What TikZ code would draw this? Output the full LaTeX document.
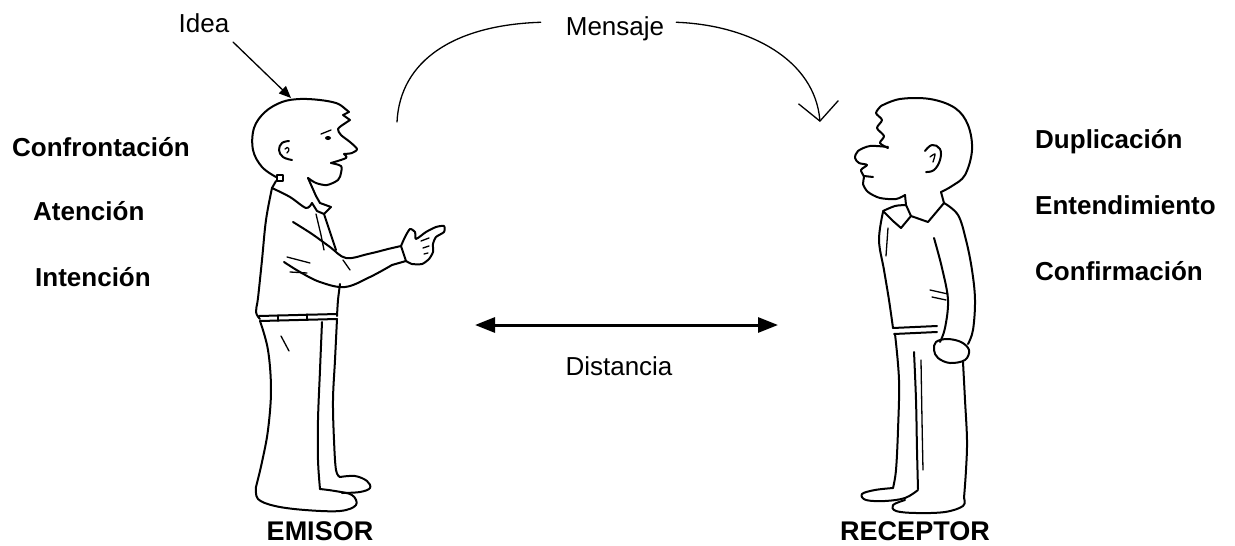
\documentclass[tikz,border=0pt]{standalone}
\usepackage{fontspec}
\setmainfont{Liberation Sans}
\usetikzlibrary{arrows.meta}
\begin{document}
\begin{tikzpicture}[x=1pt,y=-1pt,
  ink/.style={line width=2pt, line cap=round, line join=round},
  fine/.style={line width=1.3pt, line cap=round, line join=round},
  boldlabel/.style={font=\fontsize{26}{30}\selectfont\bfseries, inner sep=0pt, anchor=base west},
  plainlabel/.style={font=\fontsize{26}{30}\selectfont, inner sep=0pt, anchor=base},
  rolelabel/.style={font=\fontsize{27}{30}\selectfont\bfseries, inner sep=0pt, anchor=base}
]
\useasboundingbox[fill=white] (0,0) rectangle (1235,546);

% ---------- left-hand qualities ----------
\node[boldlabel] (confront) at (12,156) {Confrontación};
\node[boldlabel] (atencion) at (33,220) {Atención};
\node[boldlabel] (intencion) at (35,286) {Intención};

% ---------- right-hand qualities ----------
\node[boldlabel] (duplic) at (1035,148) {Duplicación};
\node[boldlabel] (entend) at (1035,214) {Entendimiento};
\node[boldlabel] (confirm) at (1035,280) {Confirmación};

% ---------- roles ----------
\node[rolelabel] (emisor) at (320,540) {EMISOR};
\node[rolelabel] (receptor) at (915,540) {RECEPTOR};

% ---------- idea arrow ----------
\node[plainlabel] (idea) at (204,32) {Idea};
\coordinate (ideatail) at (233,42);
\coordinate (headtop) at (291,98);
\draw[fine,-{Triangle[length=12pt,width=10pt]}] (ideatail) -- (headtop);

% ---------- message arc ----------
\node[plainlabel] (mensaje) at (615,35) {Mensaje};
\coordinate (msgL) at ([xshift=-25pt,yshift=6pt]mensaje.west);
\coordinate (msgR) at ([xshift=12pt,yshift=6pt]mensaje.east);
\coordinate (msgstart) at (397,122);
\coordinate (msgend) at (820,122);
\draw[fine] (msgstart) .. controls (400,60) and (455,25) .. (msgL);
\draw[fine,-{Straight Barb[length=19pt,width=40pt]}] (msgR) .. controls (750,25) and (815,60) .. (msgend);

% ---------- distance arrow ----------
\node[plainlabel] (dist) at (619,375) {Distancia};
\coordinate (distL) at (475,325);
\coordinate (distR) at (778,325);
\draw[line width=3pt,{Triangle[length=20pt,width=15pt]}-{Triangle[length=20pt,width=15pt]}] (distL) -- (distR);

% ================= sender figure =================
% head
\draw[ink] plot[smooth,tension=0.6] coordinates {(276,177) (262,167) (253,150) (254,128) (265,112) (282,102) (300,99) (320,100) (336,103) (343,107)};
\draw[ink] (343,107) -- (349,112) -- (343,115) -- (350,120) -- (344,124);
\draw[ink] plot[smooth,tension=0.5] coordinates {(344,124) (338,129) (341,135) (350,142) (357,149) (352,153) (344,154)};
\draw[ink] plot[smooth,tension=0.5] coordinates {(344,154) (346,158) (331,163)};
\draw[ink] plot[smooth,tension=0.5] coordinates {(331,163) (341,166) (341,173) (338,180) (327,185) (316,183) (308,178)};
\fill (328,138) ellipse (3 and 2);
\draw[fine] (321,134) -- (331,130);
\draw[ink] plot[smooth,tension=0.7] coordinates {(289,141) (282,143) (279,150) (283,157) (292,160)};
\draw[fine] (285,149) .. controls (288,145) and (291,150) .. (287,153);
\draw[fine] (277,175) rectangle (283,181);
% neck and collar
\draw[ink] (308,178) -- (316,196);
\draw[ink] (276,181) -- (272,188);
\draw[ink] plot[smooth,tension=0.5] coordinates {(272,188) (290,197) (306,208) (312,203)};
\draw[ink] (316,196) -- (320,203) -- (331,207) -- (324,214) -- (317,211) -- (312,203);
\draw[fine] (316,214) -- (321,235) -- (324,250);
% torso
\draw[ink] plot[smooth,tension=0.6] coordinates {(272,188) (266,220) (262,260) (258,298) (256,312) (260,319)};
\draw[ink] plot[smooth] coordinates {(324,214) (330,232) (336,250)};
\draw[ink] plot[smooth] coordinates {(340,284) (338,300) (337,316)};
% arm
\draw[ink] plot[smooth,tension=0.6] coordinates {(293,222) (312,234) (330,247) (346,258) (368,254) (388,249)};
\draw[ink] plot[smooth,tension=0.6] coordinates {(284,262) (300,272) (320,282) (345,287) (370,277) (392,265)};
\draw[fine] (287,257) -- (310,263);
\draw[fine] (290,272) -- (307,273);
\draw[fine] (343,260) -- (350,270);
% cuff and hand
\draw[ink] (388,249) -- (401,246) -- (406,261) -- (392,265);
\draw[ink] plot[smooth,tension=0.4] coordinates {(401,246) (405,237) (410,229) (415,232) (416,239) (426,232) (436,227) (444,226) (444,232) (436,237) (433,244) (433,252) (429,259) (422,264) (412,264) (406,261)};
\draw[fine] (421,241) -- (429,238);
\draw[fine] (423,248) -- (429,246);
\draw[fine] (424,254) -- (428,253);
% belt
\draw[ink] (259,316) -- (337,314);
\draw[ink] (260,321) -- (337,319);
\draw[fine] (278,315) -- (278,321);
\draw[fine] (307,314) -- (307,320);
% legs
\draw[ink] plot[smooth,tension=0.6] coordinates {(260,321) (268,350) (271,390) (268,430) (262,462) (256,487)};
\draw[ink] plot[smooth,tension=0.6] coordinates {(337,319) (335,360) (333,400) (334,440) (336,470) (340,477)};
\draw[ink] plot[smooth,tension=0.6] coordinates {(322,322) (320,370) (318,420) (318,460) (320,489)};
\draw[fine] (281,336) -- (289,351);
% feet
\draw[ink] plot[smooth,tension=0.6] coordinates {(256,487) (258,499) (275,506) (305,510) (340,511) (356,505) (352,495) (335,491) (320,489)};
\draw[ink] plot[smooth,tension=0.6] coordinates {(340,477) (355,476) (367,481) (370,488) (360,492) (342,493)};

% ================= receiver figure =================
% head
\draw[ink] plot[smooth,tension=0.5] coordinates {(881,106) (876,113) (882,120) (877,128) (884,136) (880,143) (888,148)};
\draw[ink] plot[smooth,tension=0.6] coordinates {(881,106) (900,99) (930,99) (955,108) (968,125) (972,150) (965,175) (952,186) (941,192)};
\draw[ink] plot[smooth,tension=0.5] coordinates {(888,147) (870,146) (858,151) (855,158) (859,163) (867,165) (861,170) (864,177) (863,184) (868,192) (880,198) (896,199) (905,195)};
\draw[ink] (864,176) -- (873,177);
\draw[ink] plot[smooth,tension=0.7] coordinates {(925,151) (932,145) (940,149) (940,160) (934,170) (926,172)};
\draw[fine] plot[smooth] coordinates {(930,157) (935,154) (933,162)};
% neck and collar
\draw[ink] (905,195) -- (906,205);
\draw[ink] (941,192) -- (944,203);
\draw[ink] plot[smooth,tension=0.5] coordinates {(883,211) (895,206) (906,205)};
\draw[ink] (883,211) -- (893,221) -- (901,228) -- (911,216) -- (906,205);
\draw[ink] (911,216) -- (928,222) -- (944,203);
% torso
\draw[ink] plot[smooth,tension=0.6] coordinates {(883,212) (879,240) (884,270) (889,300) (893,328)};
\draw[fine] (888,228) -- (886,256);
\draw[ink] plot[smooth,tension=0.6] coordinates {(944,203) (958,215) (966,240) (972,270) (975,300) (973,330) (968,344)};
\draw[ink] plot[smooth,tension=0.6] coordinates {(934,238) (942,268) (948,300) (945,328) (940,342)};
\draw[fine] (930,290) -- (948,294);
\draw[fine] (932,297) -- (946,300);
% hand
\draw[ink] plot[smooth cycle,tension=0.6] coordinates {(936,342) (947,339) (961,342) (969,350) (965,360) (950,363) (938,358) (934,350)};
% belt
\draw[ink] (893,328) -- (937,326);
\draw[ink] (894,334) -- (937,332);
% legs
\draw[ink] plot[smooth,tension=0.6] coordinates {(895,334) (899,380) (898,430) (896,470) (893,488)};
\draw[ink] plot[smooth,tension=0.6] coordinates {(963,362) (965,400) (967,440) (966,470) (964,498)};
\draw[ink] plot[smooth,tension=0.6] coordinates {(914,352) (916,400) (917,450) (918,489)};
\draw[fine] plot[smooth,tension=0.6] coordinates {(921,360) (922,420) (923,470)};
% feet
\draw[ink] plot[smooth,tension=0.6] coordinates {(893,488) (875,490) (862,494) (866,500) (885,501) (905,498) (918,490)};
\draw[ink] plot[smooth,tension=0.6] coordinates {(905,500) (893,505) (896,511) (916,513) (945,512) (963,506) (964,498)};
\end{tikzpicture}
\end{document}
